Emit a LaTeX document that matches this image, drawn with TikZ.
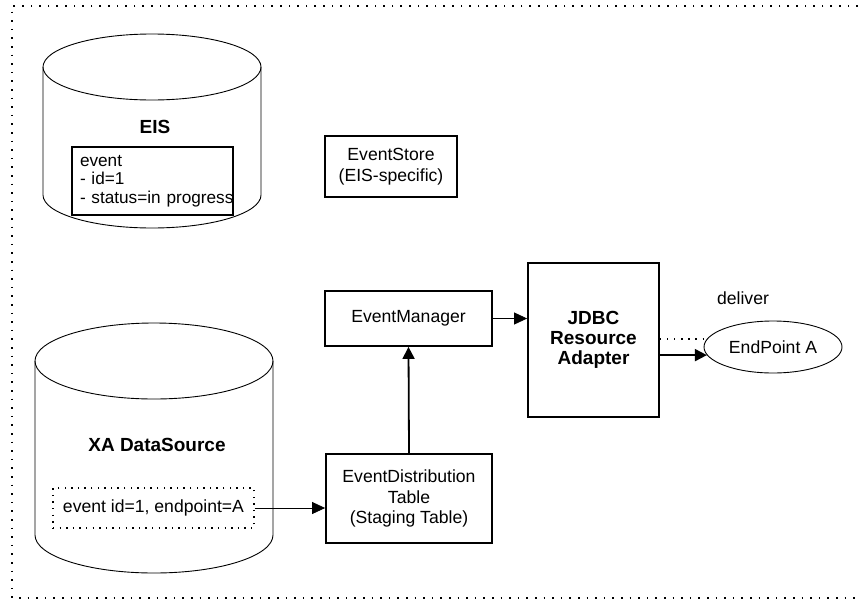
\documentclass[tikz,border=0pt]{standalone}
\usepackage{fontspec}
\setmainfont{Liberation Sans}
\usetikzlibrary{arrows.meta,shapes.geometric}

\tikzset{
  txt/.style={font=\fontsize{17.6}{20.5}\selectfont},
  boldtxt/.style={font=\fontsize{19}{20}\selectfont\bfseries},
  compbox/.style={draw, line width=1.8pt, align=center, inner sep=0pt, txt},
  cylline/.style={line width=0.9pt},
  framedots/.style={line width=1.6pt, dash pattern=on 1.6pt off 7pt},
  innerdots/.style={line width=1.4pt, dash pattern=on 1.4pt off 5.2pt},
  linkdots/.style={line width=1.3pt, dash pattern=on 1.3pt off 5.8pt},
  thinarrow/.style={line width=0.8pt, -{Triangle[length=13pt,width=12pt]}},
  thickarrow/.style={line width=1.8pt, -{Triangle[length=12pt,width=12pt]}},
}

\begin{document}
\begin{tikzpicture}[x=1pt,y=-1pt]
\clip (0,0) rectangle (861,600);
\useasboundingbox (0,0) rectangle (861,600);

% outer dotted frame (open to the right)
\draw[framedots] (875,6) -- (12,6) -- (12,598) -- (875,598);

% EIS cylinder
\draw[cylline] (152,67) ellipse [x radius=109pt, y radius=33pt];
\draw[cylline] (43,67) -- (43,195) arc[start angle=180, end angle=360, x radius=109pt, y radius=33pt] -- (261,67);
\node[boldtxt] (eislabel) at (155,127) {EIS};
\node[draw, line width=1.8pt, font=\fontsize{17.2}{18.5}\selectfont,
      minimum width=161pt, minimum height=68pt, text width=145pt,
      inner xsep=8pt, inner ysep=0pt, align=left] (eisevent) at (152.5,181)
  {\mbox{event}\\\mbox{- id=1}\\\mbox{- status=in progress}};

% XA DataSource cylinder
\draw[cylline] (154,361) ellipse [x radius=119pt, y radius=38pt];
\draw[cylline] (35,361) -- (35,535) arc[start angle=180, end angle=360, x radius=119pt, y radius=38pt] -- (273,361);
\node[boldtxt] (xalabel) at (157,445) {XA DataSource};
\node[innerdots, draw, txt, minimum width=201pt, minimum height=40pt, inner sep=0pt] (xaevent) at (153.5,508)
  {event id=1, endpoint=A};

% components
\node[compbox, minimum width=132pt, minimum height=61pt] (store) at (391,166.5)
  {EventStore\\(EIS-specific)};
\node[compbox, minimum width=167pt, minimum height=55pt] (manager) at (408.5,318.5)
  {EventManager};
\node[compbox, minimum width=166pt, minimum height=89pt] (edt) at (409,498.5)
  {EventDistribution\\Table\\(Staging Table)};
\node[compbox, boldtxt, minimum width=131pt, minimum height=154pt] (jdbc) at (593.5,340)
  {JDBC\\Resource\\Adapter};
\node[draw, ellipse, line width=0.9pt, txt, minimum width=138pt, minimum height=52pt, inner sep=0pt] (endpoint) at (773,347)
  {EndPoint A};
\node[txt] (deliver) at (743,298) {deliver};

% connectors
\draw[thinarrow] (xaevent.east) -- (xaevent.east -| edt.west);
\draw[thickarrow] (edt.north) -- (manager.south);
\draw[thinarrow] (manager.east) -- (manager.east -| jdbc.west);
\draw[linkdots] (jdbc.east |- endpoint.173) -- (endpoint.173);
\draw[thickarrow] (jdbc.east |- endpoint.187) -- (endpoint.187);
\end{tikzpicture}
\end{document}
